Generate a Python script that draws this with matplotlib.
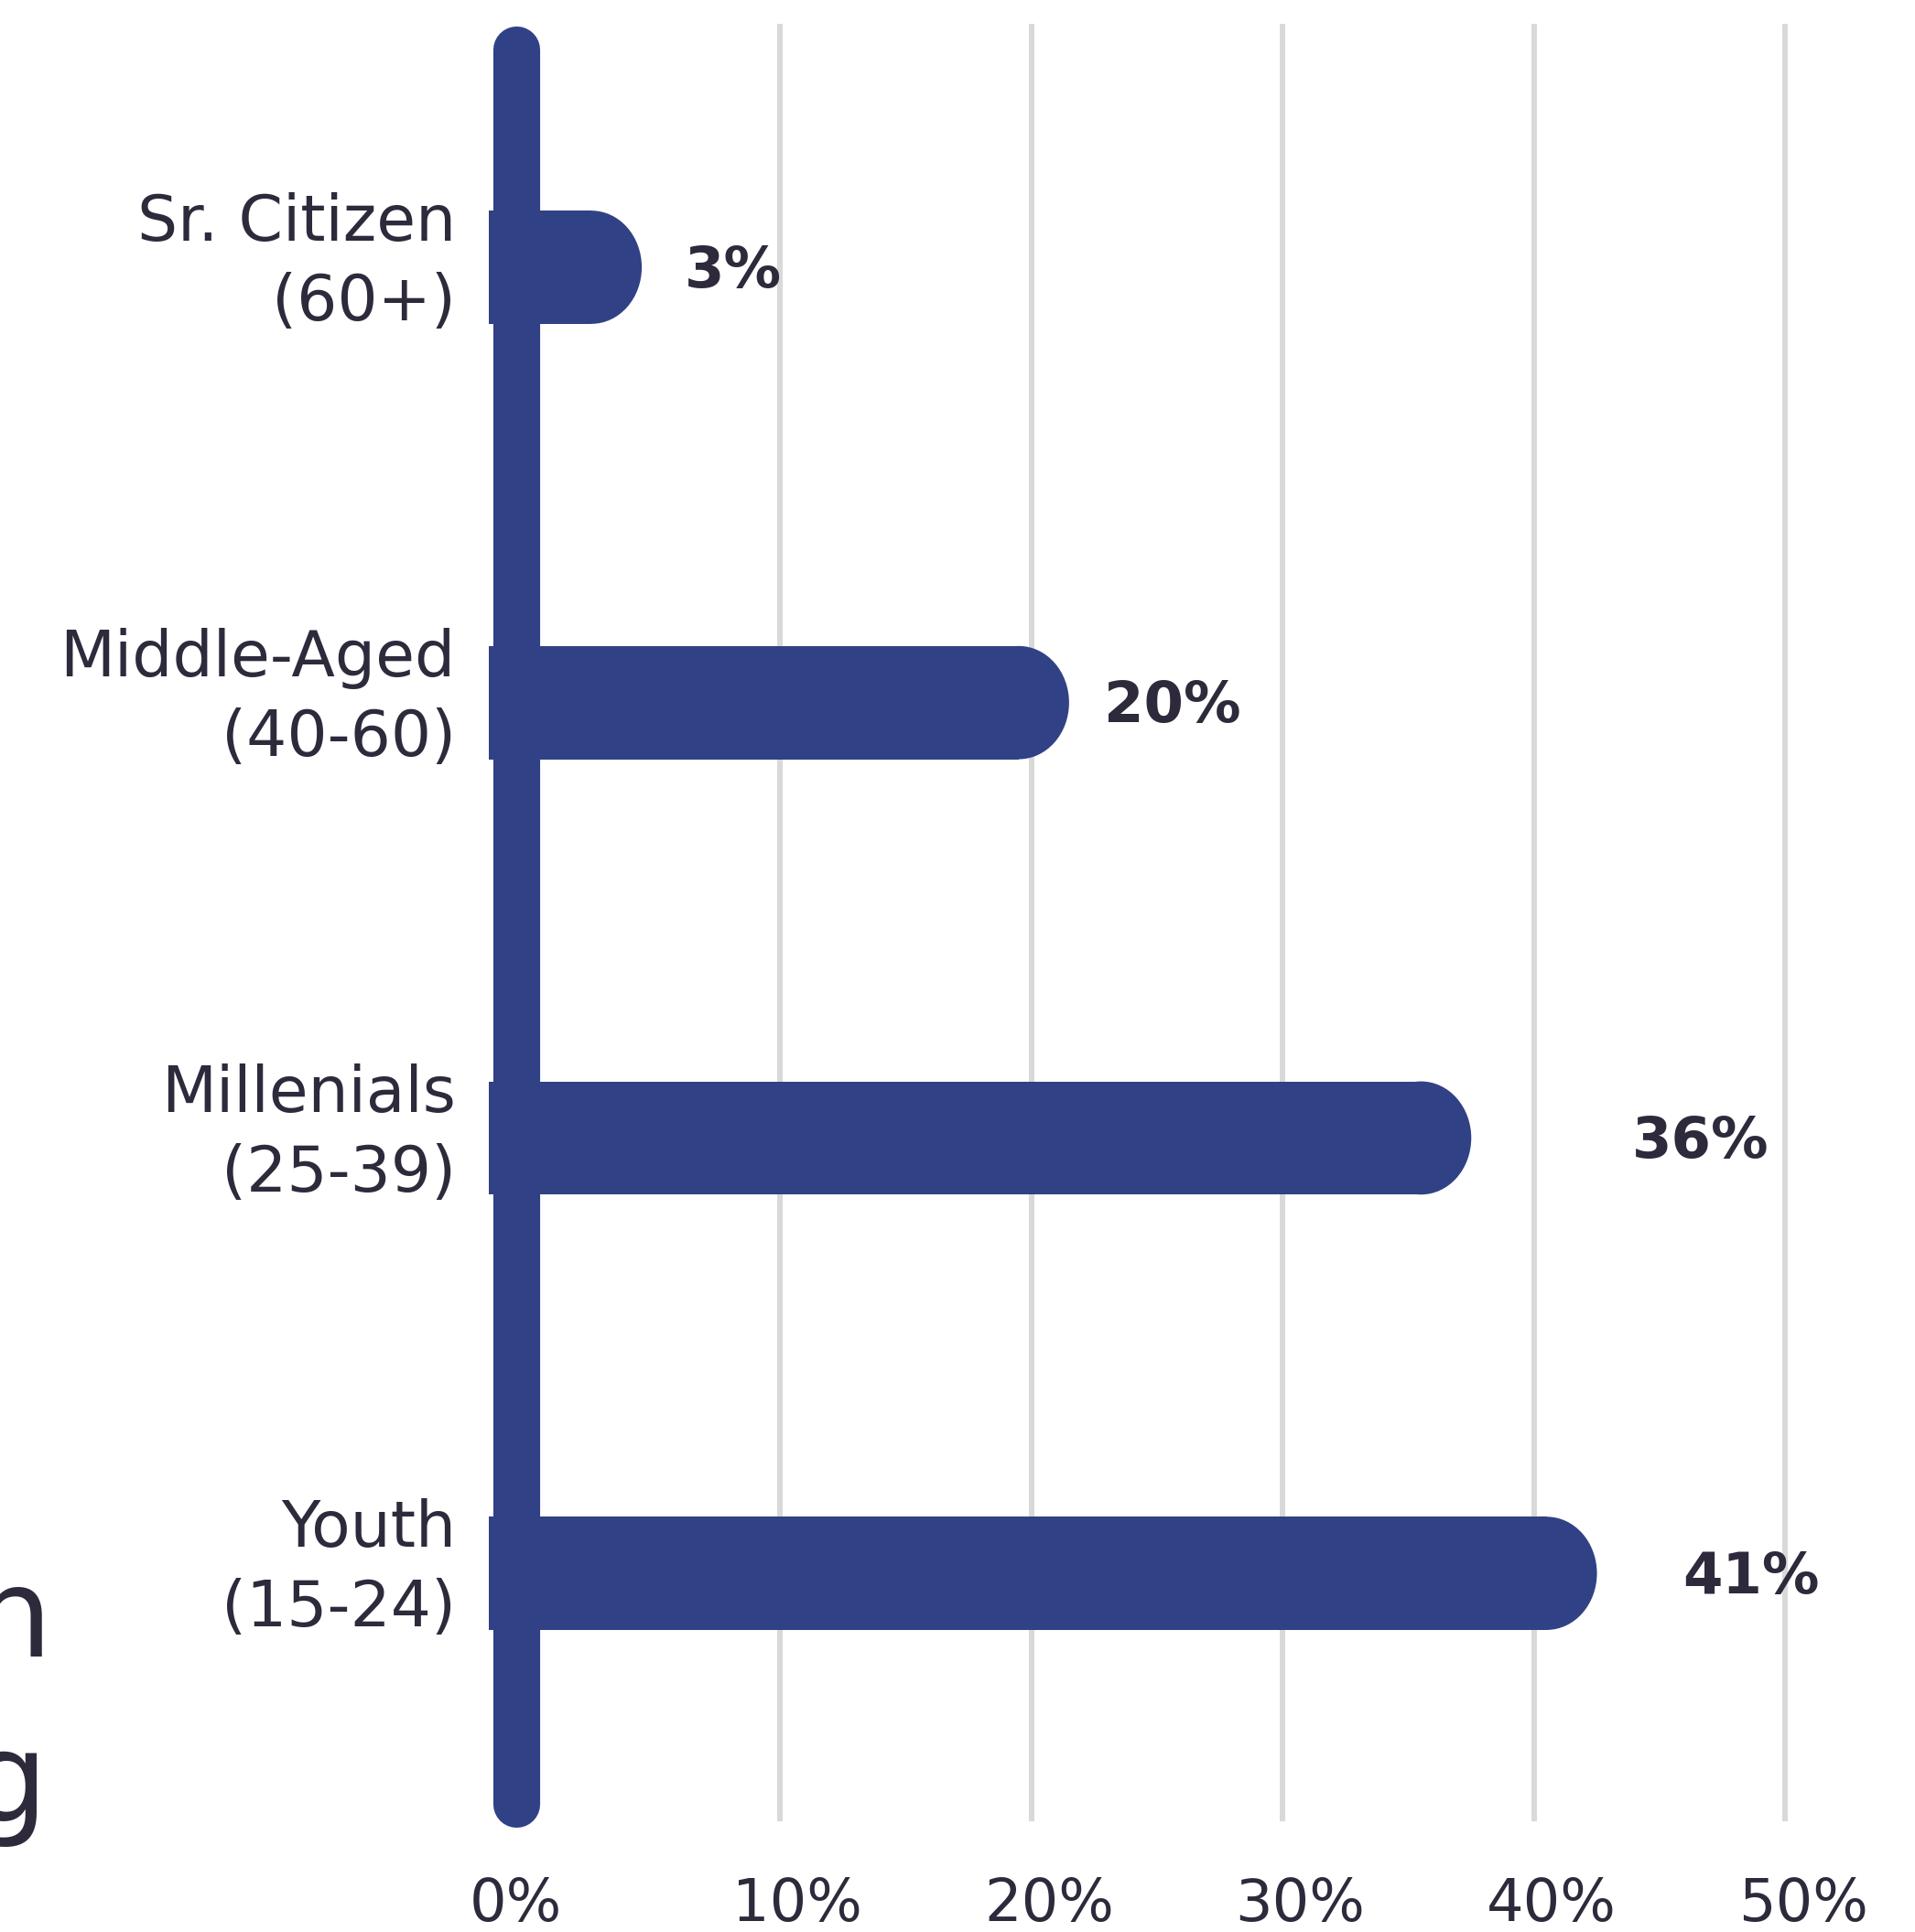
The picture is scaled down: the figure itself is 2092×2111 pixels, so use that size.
import matplotlib
matplotlib.use("Agg")
import matplotlib.pyplot as plt
from matplotlib.patches import Rectangle, Ellipse

# ── Data ─────────────────────────────────────────────────────
groups = ["Sr. Citizen\n(60+)", "Middle-Aged\n(40-60)", "Millenials\n(25-39)", "Youth\n(15-24)"]
share = [3, 20, 36, 41]
ticks = [0, 10, 20, 30, 40, 50]
tick_labels = ["0%", "10%", "20%", "30%", "40%", "50%"]

NAVY = "#314185"
TEXT = "#2e2a3c"
GRID = "#d9d9d9"

plt.rcParams["font.family"] = ["DejaVu Sans"]

# ── Figure / axes in pixel-matched units ─────────────────────
W, H = 2092, 2111
fig = plt.figure(figsize=(W / 100, H / 100), dpi=100)
ax = fig.add_axes([0, 0, 1, 1])

x0_px, px_per_pct = 577.5, 27.46      # where 0% sits, px per 1%
y0_px, px_per_row = 292.0, 475.7      # first row centre, px per row
ax.set_xlim(-x0_px / px_per_pct, (W - x0_px) / px_per_pct)
ax.set_ylim((H - y0_px) / px_per_row, -y0_px / px_per_row)
ax.axis("off")

n = len(groups)

# gridlines
ax.vlines(ticks[1:], -0.56, n - 1 + 0.57, color=GRID, lw=4.3, zorder=1)

# thick rounded "axis" bar
ax.plot([-0.49, -0.49], [-0.50, n - 1 + 0.53], color=NAVY, lw=36.8,
        solid_capstyle="round", zorder=3)

# bars with a rounded (half-ellipse) right end
bar_h = 0.26
cap = 1.5      # how far the rounded end reaches past the value
rx = 2.0       # horizontal radius of the end
start = -1.6
for i, v in enumerate(share):
    end = v + cap
    ax.add_patch(Rectangle((start, i - bar_h / 2), end - rx - start, bar_h,
                           fc=NAVY, ec="none", lw=0, zorder=2))
    ax.add_patch(Ellipse((end - rx, i), 2 * rx, bar_h,
                         fc=NAVY, ec="none", lw=0, zorder=2))

# value labels
label_gap = [3.2, 2.9, 7.9, 4.9]
for i, v in enumerate(share):
    ax.text(v + label_gap[i], i + 0.01, f"{v}%", ha="left", va="center",
            fontsize=45, fontweight="bold", color=TEXT, zorder=4)

# category labels
for i, g in enumerate(groups):
    ax.text(-2.9, i - 0.01, g, ha="right", va="center", fontsize=50,
            linespacing=1.38, color=TEXT, zorder=4)

# x tick labels
for t, lab in zip(ticks, tick_labels):
    shift = -0.5 if t == 0 else 0.7
    ax.text(t + shift, n - 1 + 0.76, lab, ha="center", va="center",
            fontsize=46, color=TEXT)

# title remnants cut by the left edge
fig.text(57 / W, 1 - 1810 / H, "h", ha="right", va="baseline",
         fontsize=98, color=TEXT)
fig.text(52 / W, 1 - 1990 / H, "g", ha="right", va="baseline",
         fontsize=98, color=TEXT)

fig.savefig("out.png", dpi=100, facecolor="white")
